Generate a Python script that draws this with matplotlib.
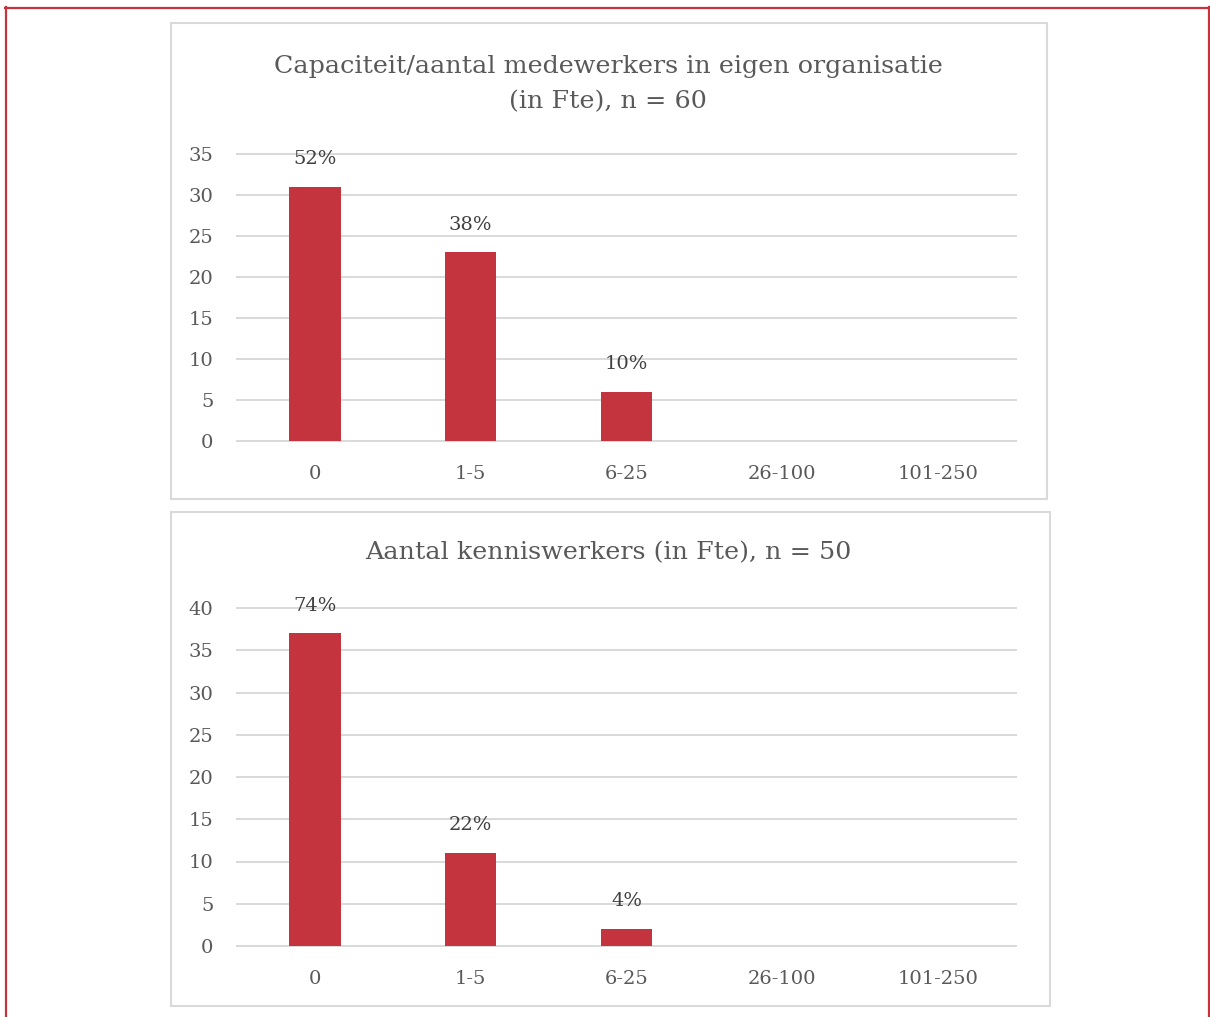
import matplotlib
matplotlib.use("Agg")
import matplotlib.pyplot as plt
from matplotlib.patches import Rectangle
from matplotlib.lines import Line2D

categories = ["0", "1-5", "6-25", "26-100", "101-250"]
capacity_counts = [31, 23, 6, 0, 0]
capacity_labels = ["52%", "38%", "10%", "", ""]
knowledge_counts = [37, 11, 2, 0, 0]
knowledge_labels = ["74%", "22%", "4%", "", ""]
title1 = "Capaciteit/aantal medewerkers in eigen organisatie\n(in Fte), n = 60"
title2 = "Aantal kenniswerkers (in Fte), n = 50"

W, H = 1210, 1017
fig = plt.figure(figsize=(W / 100, H / 100), dpi=100)
plt.rcParams['font.family'] = ['DejaVu Serif']

BAR = '#C4343F'
GRID = '#D9D9D9'
TXT = '#595959'

# outer red frame
fig.add_artist(Line2D([5 / W, 1], [1 - 7.5 / H, 1 - 7.5 / H], color='#C4343F', lw=1.6))
fig.add_artist(Line2D([5.5 / W, 5.5 / W], [0, 1 - 7 / H], color='#C4343F', lw=1.6))
fig.add_artist(Line2D([1208.5 / W, 1208.5 / W], [0, 1 - 7 / H], color='#C4343F', lw=1.6))

# panel boxes
for (x0, y0, x1, y1) in [(171, 23, 1047, 499), (171, 512, 1050, 1006)]:
    fig.add_artist(Rectangle((x0 / W, 1 - y1 / H), (x1 - x0) / W, (y1 - y0) / H,
                             fill=False, edgecolor=GRID, lw=1.5))

def draw(ax, counts, labels, ymax, title, title_y):
    x = range(len(categories))
    ax.bar(x, counts, width=0.33, color=BAR, zorder=3)
    ax.set_xlim(-0.5, len(categories) - 0.5)
    ax.set_ylim(0, ymax)
    ax.set_yticks(range(0, ymax + 1, 5))
    ax.set_xticks(list(x))
    ax.set_xticklabels(categories)
    ax.grid(axis='y', color=GRID, lw=1.4, zorder=0)
    for gl in ax.get_ygridlines():
        gl.set_clip_on(False)
    for s in ax.spines.values():
        s.set_visible(False)
    ax.tick_params(axis='both', length=0, labelsize=14, colors=TXT)
    ax.tick_params(axis='x', pad=17)
    ax.tick_params(axis='y', pad=17)
    for xi, c, lab in zip(x, counts, labels):
        if lab:
            ax.annotate(lab, (xi, c), xytext=(0, 20), textcoords='offset points',
                        ha='center', va='center', fontsize=14, color='#404040')
    fig.text(608 / W, 1 - title_y / H, title, ha='center', va='center',
             fontsize=18.3, color=TXT, linespacing=1.65)

ax1 = fig.add_axes([237 / W, 1 - 441 / H, (1016 - 237) / W, (441 - 154) / H])
draw(ax1, capacity_counts, capacity_labels, 35, title1, 84)
ax2 = fig.add_axes([237 / W, 1 - 946 / H, (1016 - 237) / W, (946 - 608) / H])
draw(ax2, knowledge_counts, knowledge_labels, 40, title2, 553)

fig.savefig("out.png", dpi=100)
